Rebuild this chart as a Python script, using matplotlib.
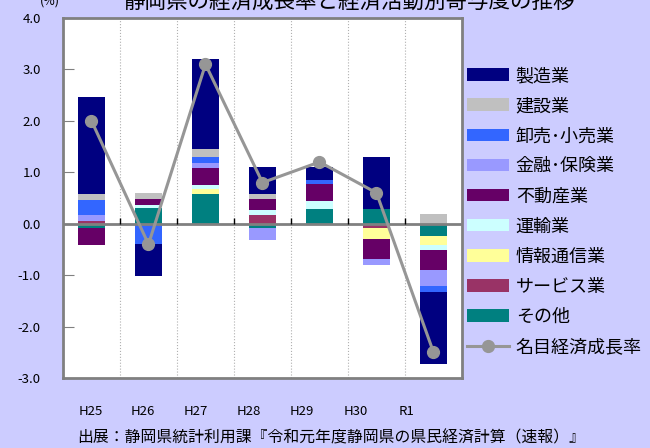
import numpy as np
import matplotlib.pyplot as plt

plt.rcParams['font.family'] = ['Noto Sans CJK JP', 'DejaVu Sans']

# data (寄与度, %)
years = ['H25', 'H26', 'H27', 'H28', 'H29', 'H30', 'R1']
sectors = ['製造業', '建設業', '卸売･小売業', '金融･保険業', '不動産業',
           '運輸業', '情報通信業', 'サービス業', 'その他']
manufacturing = [1.90, -0.62, 1.74, 0.52, 0.24, 1.02, -1.39]
construction = [0.10, 0.11, 0.16, 0.10, 0.00, 0.00, 0.19]
wholesale = [0.31, -0.39, 0.12, 0.00, 0.085, 0.00, -0.12]
finance = [0.10, 0.00, 0.10, -0.24, 0.00, -0.12, -0.31]
real_estate = [-0.34, 0.12, 0.32, 0.21, 0.32, -0.39, -0.39]
transport = [0.00, 0.06, 0.08, 0.11, 0.16, 0.00, -0.10]
info_comm = [0.00, 0.00, 0.10, 0.00, 0.00, -0.22, -0.18]
services = [0.06, 0.00, 0.00, 0.16, 0.00, -0.08, 0.00]
others = [-0.08, 0.30, 0.58, -0.08, 0.29, 0.28, -0.23]
growth = [2.0, -0.4, 3.1, 0.8, 1.2, 0.6, -2.5]
growth_label = '名目経済成長率'

series = [manufacturing, construction, wholesale, finance, real_estate,
          transport, info_comm, services, others]
colors = ['#000080', '#C0C0C0', '#3366FF', '#9999FF', '#660066',
          '#CCFFFF', '#FFFF99', '#993366', '#008080']

W, H = 650, 448
fig = plt.figure(figsize=(W / 100, H / 100), dpi=100, facecolor='#CCCCFF')
ax = fig.add_axes([63 / W, 1 - 378 / H, 399 / W, 360 / H])
ax.set_facecolor('white')

x = np.arange(len(years))
pos = np.zeros(len(years))
neg = np.zeros(len(years))
handles = {}
# stacked from その他 (bottom) up to 製造業
for name, vals, col in reversed(list(zip(sectors, series, colors))):
    vals = np.array(vals)
    bottom = np.where(vals >= 0, pos, neg)
    b = ax.bar(x, vals, 0.49, bottom=bottom, color=col, zorder=2)
    handles[name] = b
    pos = pos + np.where(vals >= 0, vals, 0)
    neg = neg + np.where(vals < 0, vals, 0)

line, = ax.plot(x, growth, color='#969696', lw=2.2, marker='o', ms=8.5, zorder=4)

ax.set_xlim(-0.5, len(years) - 0.5)
ax.set_ylim(-3, 4)
ax.set_yticks(np.arange(-3, 5))
ax.set_yticklabels([f'{v:.1f}' for v in np.arange(-3, 5)], fontsize=9.5)
ax.tick_params(axis='y', direction='in', length=8, color='#808080', pad=16)
ax.set_xticks([])

# grid & zero line
for bx in np.arange(0.5, len(years) - 0.5):
    ax.axvline(bx, color='#B0B0B0', lw=0.8, ls=':', zorder=1)
ax.axhline(0, color='#808080', lw=2, zorder=3)
ax.vlines(np.arange(0.5, len(years) - 0.5), 0, 0.12, color='black', lw=1, zorder=3)

for s in ax.spines.values():
    s.set_color('#808080')
    s.set_linewidth(2)

# category labels
label_px = [91, 143, 196, 249, 302, 356, 407]
for lx, lab in zip(label_px, years):
    fig.text(lx / W, 1 - 411 / H, lab, ha='center', va='center', fontsize=9.5)

fig.text(349 / W, 1 - 2 / H, '静岡県の経済成長率と経済活動別寄与度の推移',
         ha='center', va='center', fontsize=15.5)
fig.text(50 / W, 1 - 1 / H, '(%)', ha='center', va='center', fontsize=9)
fig.text(77 / W, 1 - 438 / H, '出展：静岡県統計利用課『令和元年度静岡県の県民経済計算（速報）』',
         ha='left', va='center', fontsize=11.4)

leg_h = [handles[n] for n in sectors] + [line]
leg_l = sectors + [growth_label]
fig.legend(leg_h, leg_l, loc='upper left', bbox_to_anchor=(467 / W, 1 - 67 / H),
           frameon=False, fontsize=13, handlelength=2.3, handleheight=0.7,
           handletextpad=0.4, labelspacing=0.67, borderpad=0, borderaxespad=0)

fig.savefig('out.png', dpi=100, facecolor=fig.get_facecolor())
